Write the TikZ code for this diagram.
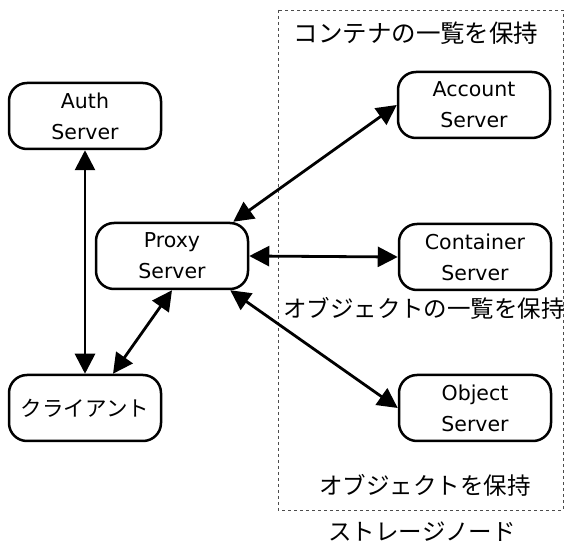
\documentclass[tikz,border=0pt]{standalone}
\usepackage{fontspec}
\setmainfont{Noto Sans CJK JP}
\newfontfamily\latinsans{DejaVu Sans}
\usepackage{tikz}
\usetikzlibrary{arrows.meta,calc,positioning}

\begin{document}
\begin{tikzpicture}[
  x=1pt, y=1pt,
  srv/.style={draw, line width=2.5pt, rounded corners=18pt, minimum width=152pt, minimum height=66pt, align=center, font=\latinsans\fontsize{20.5}{31}\selectfont},
  note/.style={font=\fontsize{23.5}{28}\selectfont, inner sep=0pt},
  storage/.style={draw=black!70, dashed, line width=0.8pt},
  tip/.tip={Triangle[length=20pt 0 0,width=20pt 0 0]},
  arr/.style={tip-tip, line width=2.8pt}
]
\useasboundingbox (0,0) rectangle (566,544);

\node[srv] (auth) at (85,428) {Auth\\Server};
\node[srv] (proxy) at (172,288) {Proxy\\Server};
\node[srv, font=\fontsize{21.5}{31}\selectfont] (client) at (85,136) {クライアント};
\node[srv] (account) at (474,439) {Account\\Server};
\node[srv] (container) at (475,287) {Container\\Server};
\node[srv] (object) at (475,136) {Object\\Server};

% storage node
\draw[storage] (278,534) rectangle (563,34);
\node[note, font=\fontsize{24.5}{28}\selectfont] (acctnote) at (416,511) {コンテナの一覧を保持};
\node[note] (contnote) at (424,236) {オブジェクトの一覧を保持};
\node[note] (objnote) at (425,59) {オブジェクトを保持};
\node[note] (stlabel) at (422,12) {ストレージノード};

\draw[arr] (auth) -- (client);
\draw[arr] (proxy.south) -- ([xshift=28pt]client.north);
\draw[arr] ([xshift=-16pt]proxy.north east) -- (account.west);
\draw[arr] (proxy.east) -- (container.west);
\draw[arr] ([xshift=-19pt]proxy.south east) -- (object.west);
\end{tikzpicture}
\end{document}
